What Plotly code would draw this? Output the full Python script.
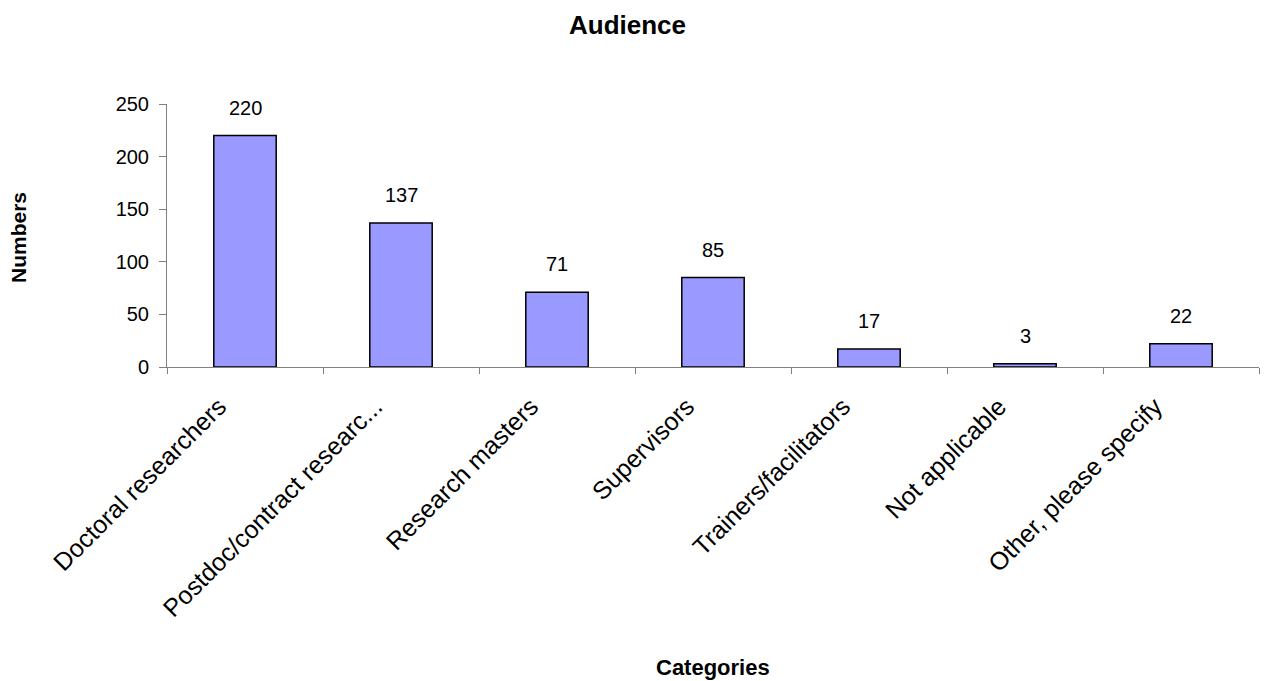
import plotly.graph_objects as go

categories = ["Doctoral researchers", "Postdoc/contract researc...", "Research masters",
              "Supervisors", "Trainers/facilitators", "Not applicable", "Other, please specify"]
values = [220, 137, 71, 85, 17, 3, 22]
y_ticks = [0, 50, 100, 150, 200, 250]

FONT = "Arial, Liberation Sans, sans-serif"

# plot area in pixels
L, R, T, B = 167, 1259, 104, 367
W, H = R - L, B - T

def px(x):
    return (x - L) / W

def py(y):
    return (B - y) / H

fig = go.Figure()
fig.add_trace(go.Bar(
    x=categories, y=values,
    marker=dict(color="#9999FF", line=dict(color="black", width=1.5)),
    hoverinfo="x+y",
))

for c, v in zip(categories, values):
    fig.add_annotation(x=c, y=v, text=str(v), showarrow=False, xref="x", yref="y",
                       yanchor="middle", yshift=28, font=dict(family=FONT, size=20, color="black"))

fig.add_annotation(text="<b>Audience</b>", xref="paper", yref="paper",
                   x=px(627), y=py(25), xanchor="center", yanchor="middle",
                   showarrow=False, font=dict(family=FONT, size=26, color="black"))
fig.add_annotation(text="<b>Categories</b>", xref="paper", yref="paper",
                   x=0.5, y=py(667), xanchor="center", yanchor="middle",
                   showarrow=False, font=dict(family=FONT, size=22, color="black"))
fig.add_annotation(text="<b>Numbers</b>", xref="paper", yref="paper",
                   x=px(18), y=py(238), xanchor="center", yanchor="middle", textangle=-90,
                   showarrow=False, font=dict(family=FONT, size=21, color="black"))

fig.update_layout(
    width=1271, height=681,
    margin=dict(l=L, r=1271 - R, t=T, b=681 - B),
    paper_bgcolor="white", plot_bgcolor="white",
    bargap=0.6, showlegend=False,
    font=dict(family=FONT, color="black"),
)
fig.update_xaxes(
    type="category", showline=True, linecolor="#808080", linewidth=1,
    ticks="outside", tickson="boundaries", ticklen=6, tickcolor="#808080",
    tickangle=-45, tickfont=dict(family=FONT, size=25, color="black"),
    ticklabelstandoff=14, ticklabelshift=-26,
    showgrid=False, zeroline=False,
)
fig.update_yaxes(
    range=[0, 250], tickvals=y_ticks, showline=True, linecolor="#808080", linewidth=1,
    ticks="outside", ticklen=7, tickcolor="#808080",
    tickfont=dict(family=FONT, size=20, color="black"), ticklabelstandoff=6,
    showgrid=False, zeroline=False,
)

fig.write_html("out.html")
